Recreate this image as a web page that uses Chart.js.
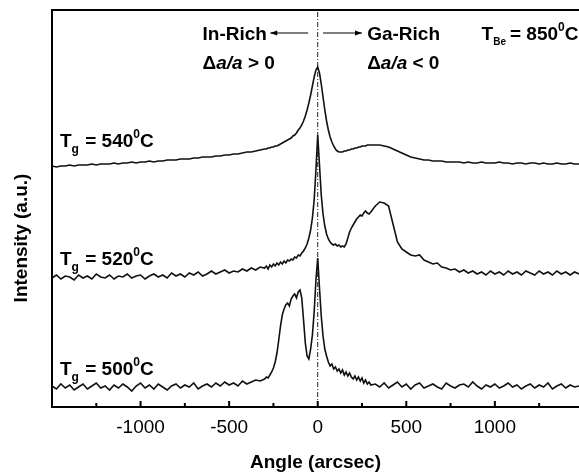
<!DOCTYPE html>
<html><head><meta charset="utf-8">
<script src="https://cdn.jsdelivr.net/npm/chart.js@4/dist/chart.umd.min.js"></script>
<style>html,body{margin:0;padding:0;background:#fff}#wrap{width:579px;height:474px;position:relative}</style>
</head><body><div id="wrap"><canvas id="c" width="579" height="474"></canvas></div>
<script>
const angles = [
-1500,-1475,-1450,-1425,-1400,-1375,-1350,-1325,-1300,-1275,-1250,-1225,-1200,-1175,-1150,-1125,-1100,-1075,-1050,-1025,
-1000,-975,-950,-925,-900,-875,-850,-825,-800,-775,-750,-725,-700,-675,-650,-625,-600,-575,-550,-525,
-500,-475,-450,-425,-400,-375,-350,-325,
-300,-290,-280,-270,-260,-250,-240,-230,-220,-210,-200,-190,-180,-170,-160,-150,-140,-130,-120,-110,
-100,-90,-80,-70,-60,-50,-40,-30,-20,-10,0,10,20,30,40,50,60,70,80,90,
100,110,120,130,140,150,160,170,180,190,200,210,220,230,240,250,260,270,280,290,300,
325,350,375,400,425,450,475,500,525,550,575,600,625,650,675,700,725,750,775,800,
825,850,875,900,925,950,975,1000,1025,1050,1075,1100,1125,1150,1175,1200,1225,1250,1275,1300,
1325,1350,1375,1400,1425,1450,1475];

const tg540 = [
241,240,241,241,242,241,242,242,242,243,242,243,243,243,244,243,244,244,245,244,
245,245,246,245,246,246,247,247,247,248,248,248,249,249,250,250,250,251,251,252,
252,253,253,254,255,255,256,257,
258,258,259,259,260,260,261,261,262,263,264,265,266,267,268,269,271,272,274,277,
279,282,286,291,297,304,312,321,330,337,340,334,323,310,297,286,277,270,265,261,
258,256,255,255,255,256,256,257,257,258,258,259,259,260,260,261,261,261,262,262,262,
262,262,261,260,258,256,254,252,250,249,248,247,247,246,246,246,245,245,245,245,
244,245,244,244,245,244,244,244,245,244,244,243,244,244,243,244,244,243,244,243,
243,244,243,243,244,243,243];

const tg520 = [
129,132,128,131,130,127,132,129,131,128,133,130,129,132,128,131,130,133,129,131,
132,128,131,133,130,132,129,134,131,133,130,134,132,135,131,133,136,133,135,137,
134,136,135,138,136,139,137,140,
139,141,138,142,140,143,141,144,142,145,143,146,144,147,146,148,147,150,149,152,
151,154,156,159,163,169,177,189,207,237,272,242,212,193,181,173,168,165,163,162,
163,161,162,160,161,160,163,169,175,179,182,185,188,190,192,191,194,196,194,193,195,
201,205,204,201,183,165,158,155,152,151,152,147,145,143,144,140,139,137,138,135,
137,134,136,133,135,132,136,133,135,132,136,133,135,132,136,134,132,136,133,135,
132,136,133,135,132,135,133];

const tg500 = [
21,18,23,19,22,17,20,23,18,21,24,19,21,17,22,19,23,20,16,21,
24,19,22,18,23,20,17,21,23,19,22,20,24,18,21,23,20,24,21,25,
22,24,21,26,23,25,27,26,
28,30,29,32,35,39,45,54,67,81,92,98,102,104,101,108,111,113,109,115,
117,109,87,64,51,48,58,72,95,127,149,119,91,71,58,51,45,41,43,38,
40,36,38,34,37,32,35,31,34,30,28,31,27,30,26,29,24,27,23,25,22,
23,20,24,19,22,25,20,23,18,22,24,19,21,23,20,18,24,21,19,22,
23,20,25,21,18,22,20,23,19,21,24,20,22,18,21,23,19,22,20,24,
18,21,23,19,22,20,21];

const xTicks = [-1250,-1000,-750,-500,-250,0,250,500,750,1000,1250];
const xTickLabels = ['','-1000','','-500','','0','','500','','1000',''];
const curveTemps = ['540','520','500'];
const curveLabelX = [-1455,-1455,-1455];
const curveLabelY = [267,149,39];
const refLine = [0, 397];

[tg540,tg520,tg500].forEach((s,i)=>{ if(s.length!==angles.length) throw new Error('len mismatch '+i+': '+s.length+' vs '+angles.length); });

const FONT = '"Liberation Sans", Arial, sans-serif';
const toPts = s => angles.map((a,i)=>({x:a,y:s[i]}));

function drawParts(ctx, parts, x, y){
  let cx = x;
  parts.forEach(p=>{
    ctx.font = p.f;
    ctx.fillText(p.t, cx, y + (p.dy||0));
    cx += ctx.measureText(p.t).width + (p.gap||0);
  });
}

const annot = {
  id:'annot',
  afterDatasetsDraw(chart){
    const {ctx, chartArea:a, scales:{x,y}} = chart;
    ctx.save();
    ctx.strokeStyle='#000'; ctx.fillStyle='#000'; ctx.lineWidth=2;
    ctx.beginPath(); ctx.moveTo(a.left-1, a.top); ctx.lineTo(a.right, a.top); ctx.stroke();
    xTicks.forEach((v,i)=>{
      const px=x.getPixelForValue(v); const len = xTickLabels[i] ? 6 : 4;
      ctx.beginPath(); ctx.moveTo(px,a.bottom); ctx.lineTo(px,a.bottom-len); ctx.stroke();
    });
    const B = 'bold 19px '+FONT, BS='bold 12px '+FONT, BSS='bold 10px '+FONT, BI='italic bold 19px '+FONT;
    ctx.textBaseline='alphabetic'; ctx.textAlign='left';
    curveTemps.forEach((t,i)=>{
      const px=x.getPixelForValue(curveLabelX[i]), py=y.getPixelForValue(curveLabelY[i])+7;
      drawParts(ctx,[{t:'T',f:B},{t:'g',f:BS,dy:6,gap:1},{t:' = '+t,f:B},{t:'0',f:BS,dy:-9},{t:'C',f:B}],px,py);
    });
    let px=x.getPixelForValue(925), py=y.getPixelForValue(374)+7;
    drawParts(ctx,[{t:'T',f:B},{t:'Be',f:BSS,dy:5,gap:4},{t:'= 850',f:B},{t:'0',f:BS,dy:-9},{t:'C',f:B}],px,py);
    px=x.getPixelForValue(-650); py=y.getPixelForValue(374)+7;
    drawParts(ctx,[{t:'In-Rich',f:B}],px,py);
    drawParts(ctx,[{t:'Δ',f:B},{t:'a/a',f:BI},{t:' > 0',f:B}],px,y.getPixelForValue(345)+7);
    px=x.getPixelForValue(279);
    drawParts(ctx,[{t:'Ga-Rich',f:B}],px,py);
    drawParts(ctx,[{t:'Δ',f:B},{t:'a/a',f:BI},{t:' < 0',f:B}],px,y.getPixelForValue(345)+7);
    ctx.lineWidth=1;
    const arrow=(x0,x1,yy)=>{
      const p0=x.getPixelForValue(x0), p1=x.getPixelForValue(x1), q=y.getPixelForValue(yy);
      ctx.beginPath(); ctx.moveTo(p0,q); ctx.lineTo(p1,q); ctx.stroke();
      const d=Math.sign(p1-p0);
      ctx.beginPath(); ctx.moveTo(p1,q); ctx.lineTo(p1-d*7,q-2.5); ctx.lineTo(p1-d*7,q+2.5); ctx.closePath(); ctx.fill();
    };
    arrow(-54,-268,374); arrow(30,250,374);
    ctx.save(); ctx.translate(22,238); ctx.rotate(-Math.PI/2);
    ctx.textAlign='center'; ctx.textBaseline='middle'; ctx.font=B;
    ctx.fillText('Intensity (a.u.)',0,0); ctx.restore();
    ctx.textAlign='center'; ctx.textBaseline='middle'; ctx.font=B;
    ctx.fillText('Angle (arcsec)', (a.left+a.right)/2, 463);
    ctx.restore();
  }
};

const lineDs = (d)=>({data:toPts(d), borderColor:'#111', borderWidth:1.6, pointRadius:0, tension:0, fill:false});

new Chart(document.getElementById('c'),{
  type:'line',
  data:{datasets:[
    lineDs(tg540), lineDs(tg520), lineDs(tg500),
    {data:refLine.map(v=>({x:0,y:v})), borderColor:'#222', borderWidth:1, borderDash:[5,2,1,2], pointRadius:0}
  ]},
  options:{
    responsive:false, animation:false, devicePixelRatio:1,
    layout:{padding:{top:10,right:0,left:0,bottom:0}},
    plugins:{legend:{display:false},tooltip:{enabled:false}},
    scales:{
      x:{type:'linear', min:-1500, max:1475,
        afterBuildTicks:(s)=>{ s.ticks = xTicks.map(v=>({value:v})); },
        afterFit:(s)=>{ s.height=67; },
        ticks:{autoSkip:false, maxRotation:0, padding:9, color:'#000', font:{family:FONT,size:19},
          callback:(v)=>{ const i=xTicks.indexOf(v); return i>=0?xTickLabels[i]:''; }},
        grid:{display:false, drawTicks:false},
        border:{display:true,color:'#000',width:2}
      },
      y:{min:0,max:397,
        afterFit:(s)=>{ s.width=52; },
        ticks:{display:false},
        grid:{display:false, drawTicks:false},
        border:{display:true,color:'#000',width:2}
      }
    }
  },
  plugins:[annot]
});
</script></body></html>
